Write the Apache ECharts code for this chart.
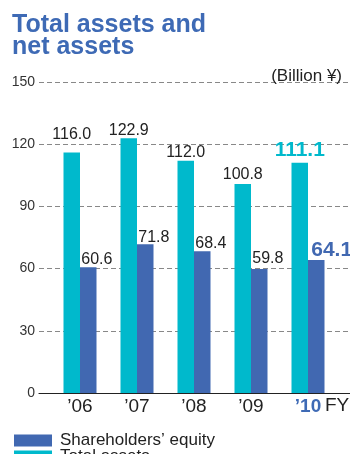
<!DOCTYPE html>
<html>
<head>
<meta charset="utf-8">
<script src="https://cdn.jsdelivr.net/npm/echarts@6/dist/echarts.min.js"></script>
<style>
  html, body { margin: 0; padding: 0; background: #fff; }
  #chart { width: 350px; height: 454px; }
</style>
</head>
<body>
<div id="chart"></div>
<script>
// Fiscal years and values (billion yen)
const years = ['\u201906', '\u201907', '\u201908', '\u201909', '\u201910'];
const totalAssets = [116.0, 122.9, 112.0, 100.8, 111.1];
const shareholdersEquity = [60.6, 71.8, 68.4, 59.8, 64.1];
const yTicks = [0, 30, 60, 90, 120, 150];

const TEAL = '#00b9cc';
const BLUE = '#4168b1';
const FONT = '"Liberation Sans", Arial, Helvetica, sans-serif';
const latest = years.length - 1;
const EQUITY = 'Shareholders\u2019 equity';
const ASSETS = 'Total assets';

// per-bar label gaps above the bar tops
const assetsLabelGap = [10, 0, 0, 1, 1.5];
const equityLabelGap = [0, -1, 0, 2.5, -1];

const chart = echarts.init(document.getElementById('chart'), null, { renderer: 'canvas' });

const plotTop = 82, plotBottom = 61;

function assetsData() {
  return totalAssets.map((v, i) => ({
    value: v,
    label: i === latest
      ? { fontSize: 21, fontWeight: 'bold', color: TEAL, distance: assetsLabelGap[i] }
      : { distance: assetsLabelGap[i] }
  }));
}
function equityData() {
  return shareholdersEquity.map((v, i) => ({
    value: v,
    label: i === latest
      ? { fontSize: 21, fontWeight: 'bold', color: BLUE, offset: [-5, 0], distance: equityLabelGap[i] }
      : { distance: equityLabelGap[i] }
  }));
}

const legendCommon = {
  orient: 'vertical', left: 9,
  itemWidth: 38, itemHeight: 12, icon: 'rect',
  textStyle: { fontSize: 17, color: '#222', lineHeight: 16, padding: [0, 0, 0, 3], fontFamily: FONT }
};

chart.setOption({
  animation: false,
  textStyle: { fontFamily: FONT },
  title: [{
    text: 'Total assets and\nnet assets',
    left: 7, top: 9,
    textStyle: { fontSize: 25, fontWeight: 'bold', color: '#3e6ab5', lineHeight: 22, fontFamily: FONT }
  }, {
    text: '(Billion \u00a5)',
    right: 3, top: 63,
    textStyle: { fontSize: 17, fontWeight: 'normal', color: '#222', fontFamily: FONT }
  }],
  legend: [
    Object.assign({ top: 427, data: [EQUITY] }, legendCommon),
    Object.assign({ top: 443, data: [ASSETS] }, legendCommon)
  ],
  grid: [
    // frame: value scale, dashed grid lines and baseline across the full width
    { left: 39, right: 0, top: plotTop, bottom: plotBottom },
    // bars
    { left: 51.5, right: 13.5, top: plotTop, bottom: plotBottom }
  ],
  xAxis: [{
    gridIndex: 0, type: 'value', min: 0, max: 1,
    axisLine: { show: true, lineStyle: { color: '#222', width: 1.2 } },
    axisTick: { show: false }, axisLabel: { show: false }, splitLine: { show: false }
  }, {
    gridIndex: 1, type: 'category', data: years,
    axisLine: { show: false }, axisTick: { show: false },
    axisLabel: {
      interval: 0, fontSize: 19, color: '#222', margin: 4,
      formatter: (v, i) => i === latest ? '{hl|' + v + '}' : v,
      rich: { hl: { fontSize: 19, fontWeight: 'bold', color: '#3e6ab5' } }
    }
  }],
  yAxis: [{
    gridIndex: 0, type: 'value', min: yTicks[0], max: yTicks[yTicks.length - 1], interval: 30,
    axisLine: { show: false }, axisTick: { show: false },
    axisLabel: { fontSize: 14, color: '#333', margin: 4 },
    splitLine: { show: true, lineStyle: { color: '#888', type: [5, 3], width: 1 } }
  }, {
    gridIndex: 1, type: 'value', min: yTicks[0], max: yTicks[yTicks.length - 1], interval: 30,
    show: false, splitLine: { show: false }
  }],
  series: [{
    name: ASSETS, type: 'bar', xAxisIndex: 1, yAxisIndex: 1,
    data: assetsData(), itemStyle: { color: TEAL },
    barWidth: 16.5, barGap: '0%',
    label: { show: true, position: 'top', fontSize: 16, color: '#222',
      formatter: p => p.value.toFixed(1) }
  }, {
    name: EQUITY, type: 'bar', xAxisIndex: 1, yAxisIndex: 1,
    data: equityData(), itemStyle: { color: BLUE },
    barWidth: 16.5, barGap: '0%',
    label: { show: true, position: 'top', align: 'left', offset: [-7, 0],
      fontSize: 16, color: '#222', formatter: p => p.value.toFixed(1) }
  }],
  graphic: [{
    type: 'text', left: 325, top: 396,
    style: { text: 'FY', fontSize: 19, fill: '#222', fontFamily: FONT }
  }]
});
</script>
</body>
</html>
